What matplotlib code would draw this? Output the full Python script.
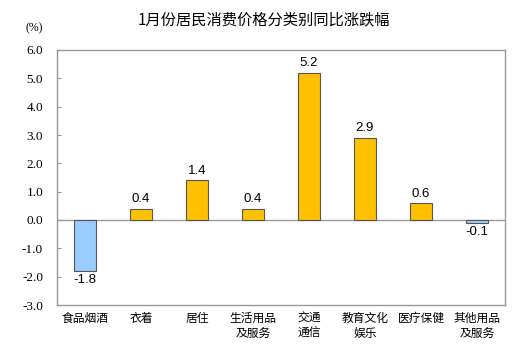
import matplotlib.pyplot as plt
import numpy as np

plt.rcParams['font.family'] = ['Noto Sans CJK SC', 'DejaVu Sans']

categories = ['食品烟酒', '衣着', '居住', '生活用品\n及服务', '交通\n通信',
              '教育文化\n娱乐', '医疗保健', '其他用品\n及服务']
values = [-1.8, 0.4, 1.4, 0.4, 5.2, 2.9, 0.6, -0.1]
yticks = [6.0, 5.0, 4.0, 3.0, 2.0, 1.0, 0.0, -1.0, -2.0, -3.0]

fig = plt.figure(figsize=(5.28, 3.5), dpi=100)
ax = fig.add_axes([57 / 528, 1 - 305 / 350, 448 / 528, 255 / 350])

x = np.arange(len(categories))
colors = ['#99CCFF' if v < 0 else '#FFC000' for v in values]
ax.bar(x, values, width=0.4, color=colors, edgecolor='#555555', linewidth=0.8, zorder=2)
ax.axhline(0, color='#999999', linewidth=1, zorder=1)

# value labels above positive bars, below negative ones
for xi, v in zip(x, values):
    if v >= 0:
        ax.text(xi, v + 0.12, f'{v:.1f}', ha='center', va='bottom', fontsize=9.5,
                family='Liberation Sans')
    else:
        ax.text(xi, v - 0.12, f'{v:.1f}', ha='center', va='top', fontsize=9.5,
                family='Liberation Sans')

ax.set_xlim(-0.5, len(categories) - 0.5)
ax.set_ylim(-3, 6)
ax.set_yticks(yticks)
ax.set_yticklabels([f'{t:.1f}' for t in yticks], fontfamily='Liberation Serif', fontsize=9.5)
ax.tick_params(axis='y', direction='in', length=3, color='#999999', pad=10)
ax.set_xticks(x)
ax.set_xticklabels(categories, fontsize=8.5, linespacing=1.2)
ax.tick_params(axis='x', length=0, pad=5)

for s in ax.spines.values():
    s.set_color('#999999')
    s.set_linewidth(1)

fig.text(0.5, 1 - 20 / 350, '1月份居民消费价格分类别同比涨跌幅', ha='center', va='center',
         fontsize=11)
fig.text(26 / 528, 1 - 28 / 350, '(%)', ha='left', va='center', fontsize=8.5,
         family='Liberation Serif')

fig.savefig('out.png', dpi=100)
